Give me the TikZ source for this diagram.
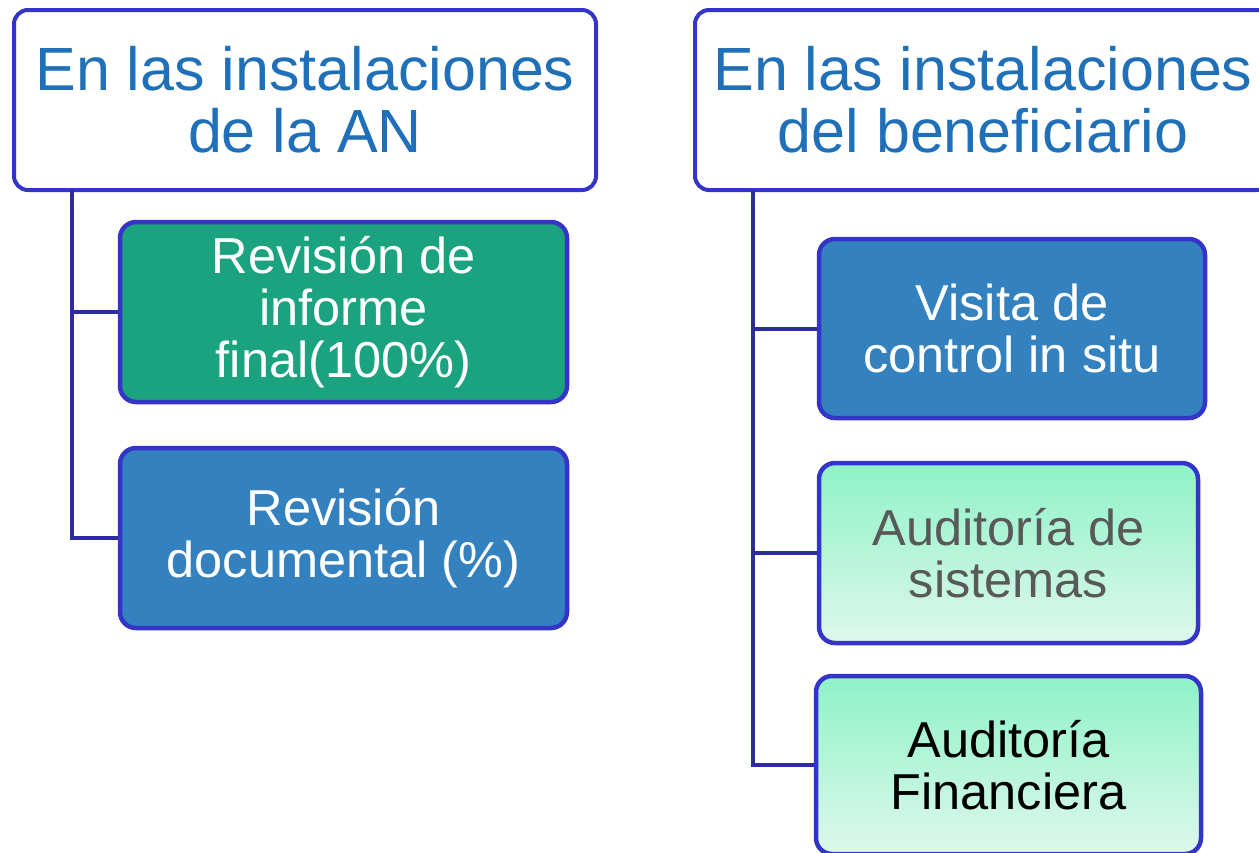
\documentclass[tikz,border=0pt]{standalone}
\usepackage{fontspec}
\setmainfont{Liberation Sans}
\definecolor{edgeblue}{RGB}{52,52,200}
\definecolor{trunkblue}{RGB}{44,44,158}
\definecolor{headtext}{RGB}{31,112,184}
\definecolor{greenbox}{RGB}{27,163,127}
\definecolor{bluebox}{RGB}{52,129,192}
\definecolor{minttop}{RGB}{142,242,200}
\definecolor{mintbot}{RGB}{222,248,236}
\definecolor{greytext}{RGB}{89,89,89}
\tikzset{
	header/.style={draw=edgeblue, line width=4pt, rounded corners=14pt, fill=white,
		text=headtext, align=center, font=\fontsize{61}{62}\selectfont,
		minimum height=180pt, inner sep=0pt},
	item/.style={draw=edgeblue, line width=4.5pt, rounded corners=16pt, align=center,
		font=\fontsize{50.5}{52}\selectfont, minimum height=180pt, inner sep=0pt},
	solid item/.style={item, fill=#1, text=white},
	mint item/.style={item, top color=minttop, bottom color=mintbot},
	trunk/.style={draw=trunkblue, line width=4pt}
}
\begin{document}
\begin{tikzpicture}[x=1pt, y=-1pt]
	\useasboundingbox (0,0) rectangle (1259,852);
	%headers
	\node[header, minimum width=582pt] (hdrAN) at (305,100) {En las instalaciones\\de la AN};
	\node[header, minimum width=576pt] (hdrBen) at (983,100) {En las instalaciones\\del beneficiario};
	%trunks
	\coordinate (trunkAN) at (72,190);
	\coordinate (trunkBen) at (753,190);
	%left items
	\node[solid item=greenbox, minimum width=447pt] (revFinal) at (343.5,312) {Revisión de\\informe\\final(100\%)};
	\node[solid item=bluebox, minimum width=447pt] (revDoc) at (343.5,538) {Revisión\\documental (\%)};
	%right items
	\node[solid item=bluebox, minimum width=386pt, minimum height=179pt] (visita) at (1012,328.5) {Visita de\\control in situ};
	\node[mint item, text=greytext, minimum width=379pt] (audSis) at (1008.5,553) {Auditoría de\\sistemas};
	\node[mint item, text=black, minimum width=385pt, minimum height=178pt] (audFin) at (1008.5,765) {Auditoría\\Financiera};
	%lines
	\draw[trunk] (trunkAN) |- (revFinal.west);
	\draw[trunk] (trunkAN) |- (revDoc.west);
	\draw[trunk] (trunkBen) |- (visita.west);
	\draw[trunk] (trunkBen) |- (audSis.west);
	\draw[trunk] (trunkBen) |- (audFin.west);
\end{tikzpicture}
\end{document}
